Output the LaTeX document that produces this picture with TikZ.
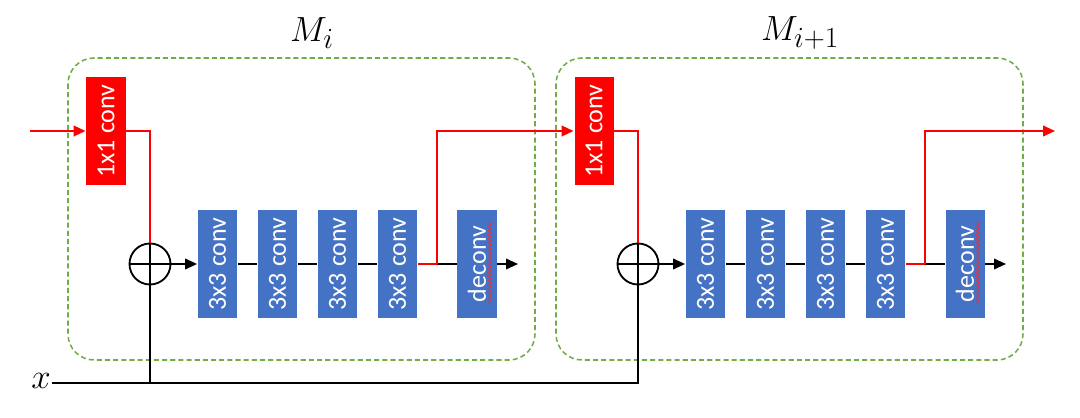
\documentclass[tikz,border=0pt]{standalone}
\usepackage{fontspec}
\setsansfont{Carlito}
\usetikzlibrary{arrows.meta,positioning,decorations.pathmorphing}

\definecolor{convred}{HTML}{FF0000}
\definecolor{convblue}{HTML}{4472C4}
\definecolor{framegreen}{HTML}{70AD47}

\begin{document}
\begin{tikzpicture}[x=0.025cm, y=-0.025cm,
    >={Triangle[length=8.5pt, width=7.5pt]}, line width=1.3pt,
    convbox/.style={rotate=90, minimum width=2.7cm, minimum height=0.975cm,
      inner sep=0pt, text=white, font=\sffamily\fontsize{18.5}{18.5}\selectfont},
    redconv/.style={convbox, fill=convred},
    blueconv/.style={convbox, fill=convblue},
    adder/.style={circle, draw, minimum size=1.025cm, inner sep=0pt},
    modframe/.style={draw=framegreen, dash pattern=on 3.6pt off 2.2pt,
      line width=1.1pt, rounded corners=0.65cm},
    redline/.style={draw=convred, line width=1.5pt},
    modlabel/.style={font=\fontsize{29}{29}\selectfont}]
  \useasboundingbox (0,0) rectangle (1080,418);

  % two modules, shifted by 488px
  \foreach \dx/\nm/\lab in {0/a/{M_i}, 488/b/{M_{i+1}}} {
    \draw[modframe] (68+\dx,58) rectangle (535+\dx,360);
    \node[modlabel] (lbl\nm) at (312+\dx,33) {$\lab$};
    \node[redconv] (one\nm) at (106+\dx,131) {1x1 conv};
    \node[adder] (add\nm) at (150+\dx,264) {};
    \draw (add\nm.north) -- (add\nm.south) (add\nm.west) -- (add\nm.east);
    \foreach \k in {1,...,4}
      \node[blueconv] (three\nm\k) at (217.5+60*\k-60+\dx,264) {3x3 conv};
    \node[blueconv] (dec\nm) at (477+\dx,264) {deconv};
    \draw[draw=convred!85, line width=0.5pt,
      decorate, decoration={snake, amplitude=0.9pt, segment length=3pt}]
      ([xshift=0.32cm, yshift=-0.98cm]dec\nm.center) -- ([xshift=0.32cm, yshift=1.08cm]dec\nm.center);
    \coordinate (split\nm) at (437+\dx,264);
    \coordinate (end\nm) at (518+\dx,264);
    % connectors (rotated boxes: north is the left side, south the right side)
    \draw[redline] (one\nm.south) -| (add\nm.north);
    \draw[->] (add\nm.east) -- (three\nm1.north);
    \draw (three\nm1.south) -- (three\nm2.north);
    \draw (three\nm2.south) -- (three\nm3.north);
    \draw (three\nm3.south) -- (three\nm4.north);
    \draw[redline] (three\nm4.south) -- (split\nm);
    \draw (split\nm) -- (dec\nm.north);
    \draw[->] (dec\nm.south) -- (end\nm);
  }

  % input, passing and output of the red path
  \coordinate (in) at (30,131);
  \coordinate (out) at (1055,131);
  \draw[redline, ->] (in) -- (onea.north);
  \draw[redline, ->] (splita) |- (oneb.north);
  \draw[redline, ->] (splitb) |- (out);

  % shared input x
  \node[font=\fontsize{38}{38}\selectfont, inner sep=0pt] (x) at (41,381) {$x$};
  \coordinate (xa) at (150,383);
  \draw (x.east |- xa) -| (addb.south);
  \draw (xa) -- (adda.south);
\end{tikzpicture}
\end{document}
